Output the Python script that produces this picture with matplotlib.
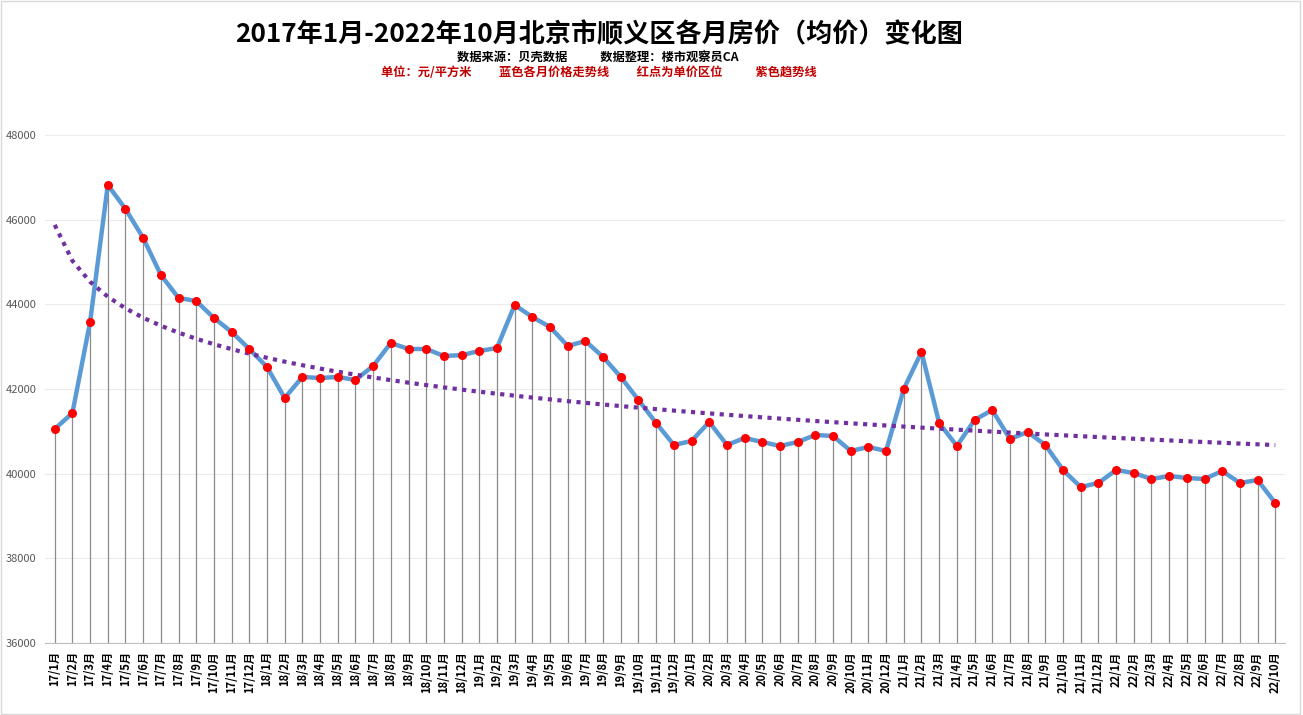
import numpy as np
import matplotlib
matplotlib.use("Agg")
from matplotlib import pyplot as plt

plt.rcParams['font.family'] = ['Noto Sans CJK SC', 'DejaVu Sans']

months = []
for yr in range(17, 23):
    for m in range(1, 13):
        if yr == 22 and m > 10:
            break
        months.append(f"{yr}/{m}月")

prices = [
    41055, 41433, 43583, 46820, 46253, 45568, 44694, 44150, 44079, 43678, 43347, 42945,
    42520, 41788, 42284, 42260, 42284, 42213, 42544, 43087, 42945, 42945, 42780, 42800,
    42898, 42969, 43985, 43701, 43465, 43016, 43134, 42756, 42284, 41740, 41197, 40677,
    40772, 41221, 40677, 40843, 40748, 40654, 40748, 40914, 40890, 40536, 40630, 40536,
    42000, 42874, 41197, 40654, 41268, 41504, 40819, 40985, 40677, 40087, 39685, 39780,
    40087, 40016, 39874, 39945, 39898, 39874, 40063, 39780, 39850, 39307,
]

x = np.arange(1, len(prices) + 1)
# logarithmic trend line (like Excel)
b, a = np.polyfit(np.log(x), prices, 1)
trend = a + b * np.log(x)

fig = plt.figure(figsize=(13.03, 7.15), dpi=100)
ax = fig.add_axes([45 / 1303, 1 - 643 / 715, (1285 - 45) / 1303, (643 - 135) / 715])

ax.vlines(x, 36000, prices, color="#8c8c8c", linewidth=0.9, zorder=1)
ax.plot(x, prices, color="#5B9BD5", linewidth=3.2, zorder=2, solid_capstyle="round")
ax.plot(x, trend, color="#7030A0", linewidth=3, linestyle=(0, (1, 1.3)), zorder=3)
ax.plot(x, prices, 'o', color="#FF0000", markersize=5.5, zorder=4)

ax.set_xlim(0.45, len(prices) + 0.55)
ax.set_ylim(36000, 48000)
ax.set_yticks(range(36000, 48001, 2000))
ax.set_xticks(x)
ax.set_xticklabels(months, rotation=90, fontsize=8, fontweight="bold")
ax.tick_params(axis='y', labelsize=8, labelcolor="#595959", length=0, pad=6)
ax.tick_params(axis='x', length=0, pad=6)
ax.grid(axis='y', color="#ececec", linewidth=0.8)
ax.set_axisbelow(True)
for s in ['top', 'right', 'left']:
    ax.spines[s].set_visible(False)
ax.spines['bottom'].set_color("#bfbfbf")

fig.text(599 / 1303, 1 - 35 / 715, "2017年1月-2022年10月北京市顺义区各月房价（均价）变化图",
         ha="center", va="center", fontsize=18.8, fontweight="bold")
fig.text(598 / 1303, 1 - 58 / 715, "数据来源：贝壳数据            数据整理：楼市观察员CA",
         ha="center", va="center", fontsize=8.8, fontweight="bold")
fig.text(599 / 1303, 1 - 72 / 715,
         "单位：元/平方米          蓝色各月价格走势线          红点为单价区位            紫色趋势线",
         ha="center", va="center", fontsize=8.8, fontweight="bold", color="#C00000")

fig.patches.append(plt.Rectangle((0.001, 0.002), 0.997, 0.996, transform=fig.transFigure,
                                 fill=False, edgecolor="#d9d9d9", linewidth=1))

fig.savefig("out.png", dpi=100)
